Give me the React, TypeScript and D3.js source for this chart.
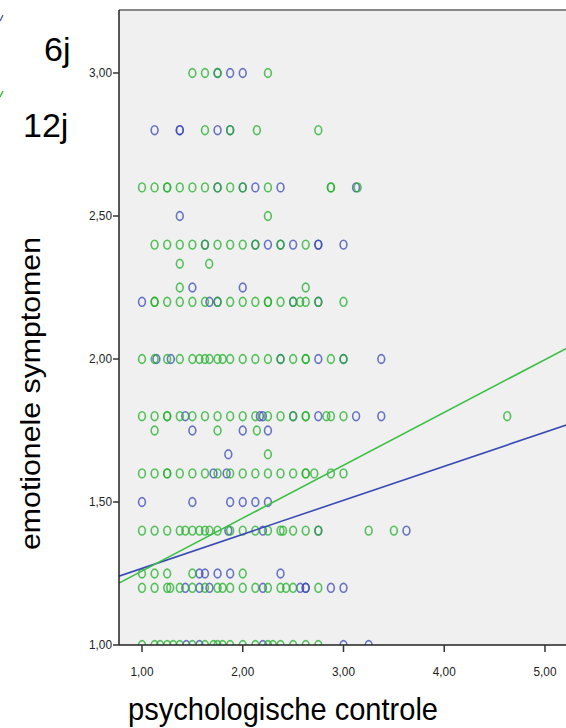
import React from "react";
import * as d3 from "d3";

// ---------- data ----------
const xTicks = [1, 2, 3, 4, 5];
const yTicks = [1, 1.5, 2, 2.5, 3];
const seriesNames = ["6j", "12j"];
const xTitle = "psychologische controle";
const yTitle = "emotionele symptomen";

// 6j (blue) points: [psychologische controle, emotionele symptomen]
const pointsSixJ: [number, number][] = [
  [1.75, 3.0], [1.875, 3.0], [2.0, 3.0],
  [1.125, 2.8], [1.375, 2.8], [1.375, 2.8], [1.75, 2.8], [1.875, 2.8],
  [1.75, 2.6], [2.0, 2.6], [2.125, 2.6], [2.375, 2.6], [3.125, 2.6],
  [1.375, 2.5],
  [1.625, 2.4], [2.125, 2.4], [2.25, 2.4], [2.375, 2.4], [2.5, 2.4], [2.75, 2.4], [2.75, 2.4], [3.0, 2.4],
  [1.5, 2.25], [2.0, 2.25],
  [1.0, 2.2], [1.67, 2.2], [1.75, 2.2], [2.5, 2.2], [2.75, 2.2],
  [1.143, 2.0], [1.286, 2.0], [2.375, 2.0], [2.75, 2.0], [3.0, 2.0], [3.375, 2.0],
  [1.43, 1.8], [2.17, 1.8], [2.2, 1.8], [2.5, 1.8], [2.75, 1.8], [3.125, 1.8], [3.375, 1.8],
  [1.5, 1.75], [2.0, 1.75], [2.25, 1.75],
  [1.857, 1.667],
  [1.71, 1.6], [1.84, 1.6],
  [1.0, 1.5], [1.5, 1.5], [1.875, 1.5], [2.0, 1.5], [2.125, 1.5], [2.25, 1.5],
  [1.857, 1.4], [2.2, 1.4], [2.75, 1.4], [3.625, 1.4],
  [1.57, 1.25], [1.625, 1.25], [1.75, 1.25], [1.875, 1.25], [2.375, 1.25],
  [1.43, 1.2], [1.57, 1.2], [1.67, 1.2], [2.2, 1.2], [2.57, 1.2], [2.625, 1.2], [2.625, 1.2], [2.875, 1.2], [3.0, 1.2],
  [1.44, 1.0], [1.57, 1.0], [2.2, 1.0], [3.0, 1.0], [3.25, 1.0],
];

// 12j (green) points
const pointsTwelveJ: [number, number][] = [
  [1.5, 3.0], [1.625, 3.0], [1.75, 3.0], [2.25, 3.0],
  [1.625, 2.8], [1.875, 2.8], [2.14, 2.8], [2.75, 2.8],
  [1.0, 2.6], [1.125, 2.6], [1.25, 2.6], [1.25, 2.6], [1.375, 2.6], [1.5, 2.6], [1.625, 2.6], [1.75, 2.6],
  [1.875, 2.6], [2.0, 2.6], [2.25, 2.6], [2.875, 2.6], [2.875, 2.6], [3.14, 2.6],
  [2.25, 2.5],
  [1.125, 2.4], [1.25, 2.4], [1.375, 2.4], [1.5, 2.4], [1.625, 2.4], [1.75, 2.4], [1.875, 2.4], [2.0, 2.4],
  [2.125, 2.4], [2.375, 2.4], [2.625, 2.4],
  [1.375, 2.333], [1.667, 2.333],
  [1.375, 2.25], [2.625, 2.25],
  [1.125, 2.2], [1.125, 2.2], [1.25, 2.2], [1.375, 2.2], [1.5, 2.2], [1.625, 2.2], [1.75, 2.2], [1.875, 2.2],
  [2.0, 2.2], [2.125, 2.2], [2.25, 2.2], [2.25, 2.2], [2.375, 2.2], [2.5, 2.2], [2.57, 2.2], [2.625, 2.2],
  [2.75, 2.2], [3.0, 2.2],
  [1.0, 2.0], [1.125, 2.0], [1.25, 2.0], [1.375, 2.0], [1.5, 2.0], [1.57, 2.0], [1.625, 2.0], [1.67, 2.0],
  [1.75, 2.0], [1.8, 2.0], [1.875, 2.0], [2.0, 2.0], [2.125, 2.0], [2.25, 2.0], [2.375, 2.0], [2.5, 2.0],
  [2.625, 2.0], [2.625, 2.0], [2.875, 2.0], [3.0, 2.0],
  [1.0, 1.8], [1.125, 1.8], [1.25, 1.8], [1.25, 1.8], [1.375, 1.8], [1.5, 1.8], [1.625, 1.8], [1.75, 1.8],
  [1.875, 1.8], [2.0, 1.8], [2.125, 1.8], [2.25, 1.8], [2.375, 1.8], [2.5, 1.8], [2.625, 1.8], [2.625, 1.8],
  [2.83, 1.8], [2.875, 1.8], [3.0, 1.8], [4.625, 1.8],
  [1.125, 1.75], [1.75, 1.75], [2.14, 1.75],
  [2.25, 1.667],
  [1.0, 1.6], [1.125, 1.6], [1.25, 1.6], [1.25, 1.6], [1.375, 1.6], [1.5, 1.6], [1.625, 1.6], [1.75, 1.6],
  [1.875, 1.6], [2.0, 1.6], [2.125, 1.6], [2.25, 1.6], [2.375, 1.6], [2.5, 1.6], [2.625, 1.6], [2.625, 1.6],
  [2.71, 1.6], [2.875, 1.6], [3.0, 1.6],
  [1.0, 1.4], [1.125, 1.4], [1.25, 1.4], [1.375, 1.4], [1.43, 1.4], [1.5, 1.4], [1.57, 1.4], [1.625, 1.4],
  [1.67, 1.4], [1.75, 1.4], [1.875, 1.4], [2.0, 1.4], [2.125, 1.4], [2.25, 1.4], [2.375, 1.4], [2.4, 1.4],
  [2.5, 1.4], [2.625, 1.4], [2.75, 1.4], [3.25, 1.4], [3.5, 1.4],
  [1.0, 1.25], [1.125, 1.25], [1.25, 1.25], [1.5, 1.25], [2.0, 1.25],
  [1.0, 1.2], [1.125, 1.2], [1.25, 1.2], [1.28, 1.2], [1.375, 1.2], [1.5, 1.2], [1.625, 1.2], [1.75, 1.2],
  [1.8, 1.2], [1.875, 1.2], [2.0, 1.2], [2.125, 1.2], [2.25, 1.2], [2.375, 1.2], [2.43, 1.2], [2.5, 1.2],
  [2.75, 1.2],
  [1.0, 1.0], [1.125, 1.0], [1.18, 1.0], [1.25, 1.0], [1.31, 1.0], [1.375, 1.0], [1.5, 1.0], [1.625, 1.0],
  [1.71, 1.0], [1.75, 1.0], [1.8, 1.0], [1.875, 1.0], [2.0, 1.0], [2.125, 1.0], [2.25, 1.0], [2.3, 1.0],
  [2.375, 1.0], [2.5, 1.0], [2.625, 1.0], [2.75, 1.0],
];

// fitted regression lines: [intercept, slope]
const fitSixJ = [1.149, 0.119];
const fitTwelveJ = [1.074, 0.1848];

// ---------- layout ----------
const W = 566;
const H = 728;
const plot = { left: 119, top: 10, right: 600, bottom: 645 };
const blue = "#3a4ab4";
const green = "#22b02a";

export default function App() {
  const x = d3.scaleLinear().domain([1, 5]).range([142, 545]);
  const y = d3.scaleLinear().domain([1, 3]).range([645, 73]);
  const xMin = x.invert(plot.left);
  const xMax = x.invert(plot.right);
  const fitPath = (fit: number[]) =>
    d3
      .line<number>()
      .x((d) => x(d))
      .y((d) => y(fit[0] + fit[1] * d))([xMin, xMax]) || "";
  const fmt = (v: number) => v.toFixed(2).replace(".", ",");
  const font = "'Liberation Sans', Arial, sans-serif";

  return (
    <svg
      width={W}
      height={H}
      style={{ position: "absolute", left: 0, top: 0, background: "#fff" }}
      fontFamily={font}
    >
      <defs>
        <clipPath id="plotclip">
          <rect x={plot.left} y={plot.top} width={plot.right - plot.left} height={plot.bottom - plot.top} />
        </clipPath>
      </defs>
      <rect
        x={plot.left}
        y={plot.top}
        width={plot.right - plot.left}
        height={plot.bottom - plot.top}
        fill="#f0f0f0"
      />
      <g clipPath="url(#plotclip)">
        {pointsSixJ.map((d, i) => (
          <ellipse
            key={"b" + i}
            cx={x(d[0])}
            cy={y(d[1])}
            rx={3.4}
            ry={4.4}
            fill="none"
            stroke={blue}
            strokeOpacity={0.75}
            strokeWidth={1.6}
          />
        ))}
        {pointsTwelveJ.map((d, i) => (
          <ellipse
            key={"g" + i}
            cx={x(d[0])}
            cy={y(d[1])}
            rx={3.4}
            ry={4.4}
            fill="none"
            stroke={green}
            strokeOpacity={0.75}
            strokeWidth={1.6}
          />
        ))}
        <path d={fitPath(fitSixJ)} stroke="#3a4ab5" strokeWidth={1.6} fill="none" />
        <path d={fitPath(fitTwelveJ)} stroke="#3cbf44" strokeWidth={1.6} fill="none" />
      </g>
      {/* frame */}
      <line x1={plot.left} x2={W} y1={plot.top} y2={plot.top} stroke="#888" strokeWidth={2} />
      <line x1={plot.left} x2={plot.left} y1={plot.top} y2={plot.bottom} stroke="#222" strokeWidth={1.5} />
      <line x1={plot.left} x2={W} y1={plot.bottom} y2={plot.bottom} stroke="#222" strokeWidth={1.5} />
      {/* y ticks */}
      {yTicks.map((t) => (
        <g key={"yt" + t}>
          <line x1={113} x2={plot.left} y1={y(t)} y2={y(t)} stroke="#333" strokeWidth={1.5} />
          <text
            x={112}
            y={y(t) + 4}
            textAnchor="end"
            fontSize={13}
            textLength={23}
            lengthAdjust="spacingAndGlyphs"
            fill="#222"
          >
            {fmt(t)}
          </text>
        </g>
      ))}
      {/* x ticks */}
      {xTicks.map((t) => (
        <g key={"xt" + t}>
          <line x1={x(t)} x2={x(t)} y1={plot.bottom} y2={plot.bottom + 7} stroke="#333" strokeWidth={1.5} />
          <text
            x={x(t) - 11.5}
            y={676}
            fontSize={13}
            textLength={23}
            lengthAdjust="spacingAndGlyphs"
            fill="#222"
          >
            {fmt(t)}
          </text>
        </g>
      ))}
      {/* axis titles */}
      <text
        x={128}
        y={720}
        fontSize={32}
        textLength={310}
        lengthAdjust="spacingAndGlyphs"
        fill="#000"
      >
        {xTitle}
      </text>
      <text
        transform="translate(40,550) rotate(-90)"
        x={0}
        y={0}
        fontSize={28}
        textLength={313}
        lengthAdjust="spacingAndGlyphs"
        fill="#000"
      >
        {yTitle}
      </text>
      {/* legend remnants */}
      <path d="M0,21 L3,15" stroke={blue} strokeWidth={1.2} fill="none" />
      <path d="M0,97 L3,91" stroke={green} strokeWidth={1.2} fill="none" />
      <text x={44} y={61} fontSize={34} fill="#000">
        {seriesNames[0]}
      </text>
      <text x={23} y={137} fontSize={34} fill="#000">
        {seriesNames[1]}
      </text>
    </svg>
  );
}
